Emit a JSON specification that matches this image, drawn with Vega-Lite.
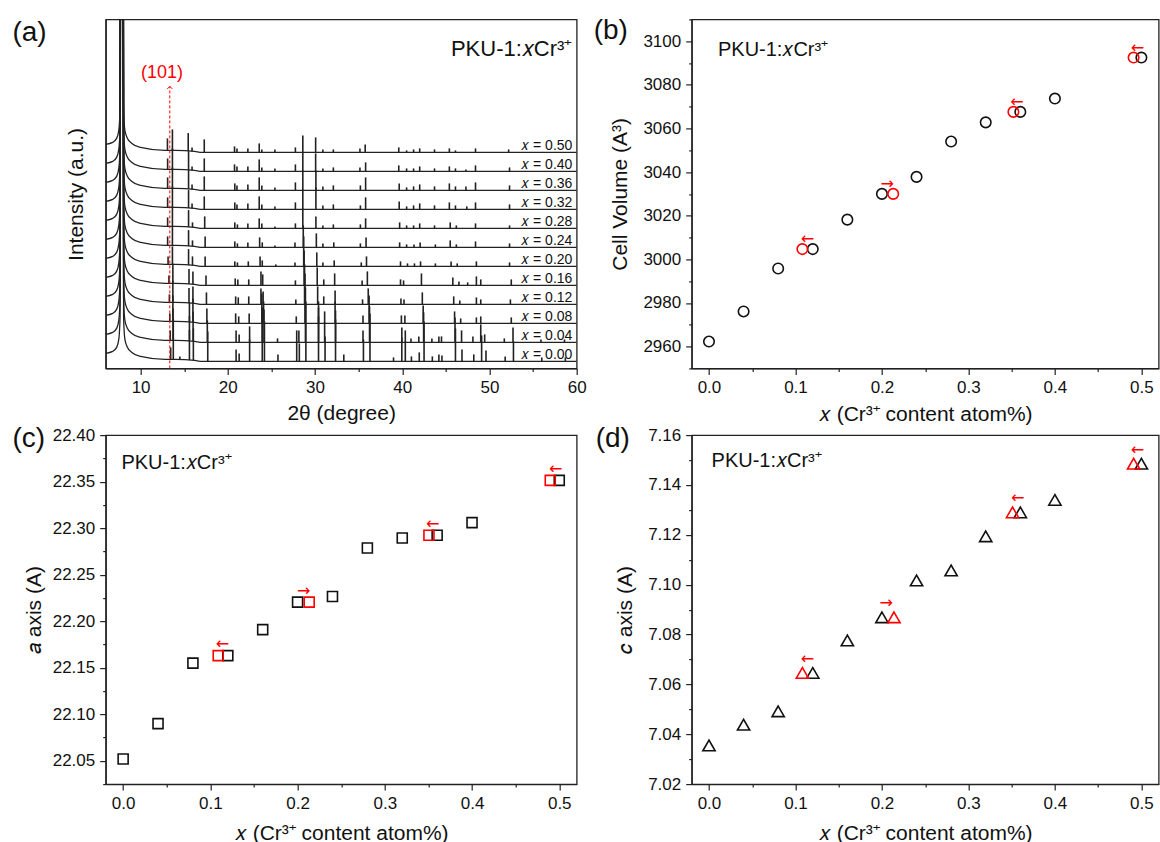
{
"$schema":"https://vega.github.io/schema/vega-lite/v6.json",
"background":"white",
"padding":{"left":11.7,"top":9.4,"right":0,"bottom":5},
"config":{"font":"Liberation Sans","view":{"stroke":"#222","strokeWidth":1.3},
"axis":{"grid":false,"domainColor":"#222","domainWidth":1.3,"tickColor":"#222","tickWidth":1.2,"labelColor":"#111","titleColor":"#111","labelFontSize":17,"titleFontSize":21,"titleFontWeight":"normal","labelFlush":false,"labelOverlap":false,"labelFont":"Liberation Sans","titleFont":"Liberation Sans"},
"text":{"font":"Liberation Sans"}},
"datasets":{
"bg":[
{"s":"0.00","t":6,"v":15},{"s":"0.00","t":6.8,"v":17},{"s":"0.00","t":7.25,"v":21},{"s":"0.00","t":7.5,"v":29},{"s":"0.00","t":7.65,"v":52},{"s":"0.00","t":7.77,"v":1007},{"s":"0.00","t":7.93,"v":1007},{"s":"0.00","t":8.05,"v":52},{"s":"0.00","t":8.2,"v":29},{"s":"0.00","t":8.5,"v":21},{"s":"0.00","t":9,"v":16},{"s":"0.00","t":10,"v":12},{"s":"0.00","t":12.8,"v":9},{"s":"0.00","t":14,"v":9},{"s":"0.00","t":16.2,"v":8},{"s":"0.00","t":17,"v":7},{"s":"0.00","t":60,"v":7},
{"s":"0.04","t":6,"v":34},{"s":"0.04","t":6.8,"v":36},{"s":"0.04","t":7.25,"v":40},{"s":"0.04","t":7.5,"v":48},{"s":"0.04","t":7.65,"v":71},{"s":"0.04","t":7.77,"v":1026},{"s":"0.04","t":7.93,"v":1026},{"s":"0.04","t":8.05,"v":71},{"s":"0.04","t":8.2,"v":48},{"s":"0.04","t":8.5,"v":40},{"s":"0.04","t":9,"v":35},{"s":"0.04","t":10,"v":31},{"s":"0.04","t":12.8,"v":28},{"s":"0.04","t":14,"v":28},{"s":"0.04","t":16.2,"v":27},{"s":"0.04","t":17,"v":26},{"s":"0.04","t":60,"v":26},
{"s":"0.08","t":6,"v":53},{"s":"0.08","t":6.8,"v":55},{"s":"0.08","t":7.25,"v":59},{"s":"0.08","t":7.5,"v":67},{"s":"0.08","t":7.65,"v":90},{"s":"0.08","t":7.77,"v":1045},{"s":"0.08","t":7.93,"v":1045},{"s":"0.08","t":8.05,"v":90},{"s":"0.08","t":8.2,"v":67},{"s":"0.08","t":8.5,"v":59},{"s":"0.08","t":9,"v":54},{"s":"0.08","t":10,"v":50},{"s":"0.08","t":12.8,"v":47},{"s":"0.08","t":14,"v":47},{"s":"0.08","t":16.2,"v":46},{"s":"0.08","t":17,"v":45},{"s":"0.08","t":60,"v":45},
{"s":"0.12","t":6,"v":72},{"s":"0.12","t":6.8,"v":74},{"s":"0.12","t":7.25,"v":78},{"s":"0.12","t":7.5,"v":86},{"s":"0.12","t":7.65,"v":109},{"s":"0.12","t":7.77,"v":1064},{"s":"0.12","t":7.93,"v":1064},{"s":"0.12","t":8.05,"v":109},{"s":"0.12","t":8.2,"v":86},{"s":"0.12","t":8.5,"v":78},{"s":"0.12","t":9,"v":73},{"s":"0.12","t":10,"v":69},{"s":"0.12","t":12.8,"v":66},{"s":"0.12","t":14,"v":66},{"s":"0.12","t":16.2,"v":65},{"s":"0.12","t":17,"v":64},{"s":"0.12","t":60,"v":64},
{"s":"0.16","t":6,"v":91},{"s":"0.16","t":6.8,"v":93},{"s":"0.16","t":7.25,"v":97},{"s":"0.16","t":7.5,"v":105},{"s":"0.16","t":7.65,"v":128},{"s":"0.16","t":7.77,"v":1083},{"s":"0.16","t":7.93,"v":1083},{"s":"0.16","t":8.05,"v":128},{"s":"0.16","t":8.2,"v":105},{"s":"0.16","t":8.5,"v":97},{"s":"0.16","t":9,"v":92},{"s":"0.16","t":10,"v":88},{"s":"0.16","t":12.8,"v":85},{"s":"0.16","t":14,"v":85},{"s":"0.16","t":16.2,"v":84},{"s":"0.16","t":17,"v":83},{"s":"0.16","t":60,"v":83},
{"s":"0.20","t":6,"v":110},{"s":"0.20","t":6.8,"v":112},{"s":"0.20","t":7.25,"v":116},{"s":"0.20","t":7.5,"v":124},{"s":"0.20","t":7.65,"v":147},{"s":"0.20","t":7.77,"v":1102},{"s":"0.20","t":7.93,"v":1102},{"s":"0.20","t":8.05,"v":147},{"s":"0.20","t":8.2,"v":124},{"s":"0.20","t":8.5,"v":116},{"s":"0.20","t":9,"v":111},{"s":"0.20","t":10,"v":107},{"s":"0.20","t":12.8,"v":104},{"s":"0.20","t":14,"v":104},{"s":"0.20","t":16.2,"v":103},{"s":"0.20","t":17,"v":102},{"s":"0.20","t":60,"v":102},
{"s":"0.24","t":6,"v":129},{"s":"0.24","t":6.8,"v":131},{"s":"0.24","t":7.25,"v":135},{"s":"0.24","t":7.5,"v":143},{"s":"0.24","t":7.65,"v":166},{"s":"0.24","t":7.77,"v":1121},{"s":"0.24","t":7.93,"v":1121},{"s":"0.24","t":8.05,"v":166},{"s":"0.24","t":8.2,"v":143},{"s":"0.24","t":8.5,"v":135},{"s":"0.24","t":9,"v":130},{"s":"0.24","t":10,"v":126},{"s":"0.24","t":12.8,"v":123},{"s":"0.24","t":14,"v":123},{"s":"0.24","t":16.2,"v":122},{"s":"0.24","t":17,"v":121},{"s":"0.24","t":60,"v":121},
{"s":"0.28","t":6,"v":148},{"s":"0.28","t":6.8,"v":150},{"s":"0.28","t":7.25,"v":154},{"s":"0.28","t":7.5,"v":162},{"s":"0.28","t":7.65,"v":185},{"s":"0.28","t":7.77,"v":1140},{"s":"0.28","t":7.93,"v":1140},{"s":"0.28","t":8.05,"v":185},{"s":"0.28","t":8.2,"v":162},{"s":"0.28","t":8.5,"v":154},{"s":"0.28","t":9,"v":149},{"s":"0.28","t":10,"v":145},{"s":"0.28","t":12.8,"v":142},{"s":"0.28","t":14,"v":142},{"s":"0.28","t":16.2,"v":141},{"s":"0.28","t":17,"v":140},{"s":"0.28","t":60,"v":140},
{"s":"0.32","t":6,"v":167},{"s":"0.32","t":6.8,"v":169},{"s":"0.32","t":7.25,"v":173},{"s":"0.32","t":7.5,"v":181},{"s":"0.32","t":7.65,"v":204},{"s":"0.32","t":7.77,"v":1159},{"s":"0.32","t":7.93,"v":1159},{"s":"0.32","t":8.05,"v":204},{"s":"0.32","t":8.2,"v":181},{"s":"0.32","t":8.5,"v":173},{"s":"0.32","t":9,"v":168},{"s":"0.32","t":10,"v":164},{"s":"0.32","t":12.8,"v":161},{"s":"0.32","t":14,"v":161},{"s":"0.32","t":16.2,"v":160},{"s":"0.32","t":17,"v":159},{"s":"0.32","t":60,"v":159},
{"s":"0.36","t":6,"v":186},{"s":"0.36","t":6.8,"v":188},{"s":"0.36","t":7.25,"v":192},{"s":"0.36","t":7.5,"v":200},{"s":"0.36","t":7.65,"v":223},{"s":"0.36","t":7.77,"v":1178},{"s":"0.36","t":7.93,"v":1178},{"s":"0.36","t":8.05,"v":223},{"s":"0.36","t":8.2,"v":200},{"s":"0.36","t":8.5,"v":192},{"s":"0.36","t":9,"v":187},{"s":"0.36","t":10,"v":183},{"s":"0.36","t":12.8,"v":180},{"s":"0.36","t":14,"v":180},{"s":"0.36","t":16.2,"v":179},{"s":"0.36","t":17,"v":178},{"s":"0.36","t":60,"v":178},
{"s":"0.40","t":6,"v":205},{"s":"0.40","t":6.8,"v":207},{"s":"0.40","t":7.25,"v":211},{"s":"0.40","t":7.5,"v":219},{"s":"0.40","t":7.65,"v":242},{"s":"0.40","t":7.77,"v":1197},{"s":"0.40","t":7.93,"v":1197},{"s":"0.40","t":8.05,"v":242},{"s":"0.40","t":8.2,"v":219},{"s":"0.40","t":8.5,"v":211},{"s":"0.40","t":9,"v":206},{"s":"0.40","t":10,"v":202},{"s":"0.40","t":12.8,"v":199},{"s":"0.40","t":14,"v":199},{"s":"0.40","t":16.2,"v":198},{"s":"0.40","t":17,"v":197},{"s":"0.40","t":60,"v":197},
{"s":"0.50","t":6,"v":224},{"s":"0.50","t":6.8,"v":226},{"s":"0.50","t":7.25,"v":230},{"s":"0.50","t":7.5,"v":238},{"s":"0.50","t":7.65,"v":261},{"s":"0.50","t":7.77,"v":1216},{"s":"0.50","t":7.93,"v":1216},{"s":"0.50","t":8.05,"v":261},{"s":"0.50","t":8.2,"v":238},{"s":"0.50","t":8.5,"v":230},{"s":"0.50","t":9,"v":225},{"s":"0.50","t":10,"v":221},{"s":"0.50","t":12.8,"v":218},{"s":"0.50","t":14,"v":218},{"s":"0.50","t":16.2,"v":217},{"s":"0.50","t":17,"v":216},{"s":"0.50","t":60,"v":216}
],
"pk":[
{"t":13.45,"v":9,"v2":21},{"t":13.75,"v":9,"v2":49},{"t":14.5,"v":8.8,"v2":11.8},{"t":15.6,"v":8.3,"v2":38.3},{"t":16.05,"v":8,"v2":40},{"t":17.7,"v":7,"v2":37},{"t":20.95,"v":7,"v2":19},{"t":21.3,"v":7,"v2":15},{"t":22.5,"v":7,"v2":29},{"t":23.95,"v":7,"v2":50},{"t":24.2,"v":7,"v2":47},{"t":25.75,"v":7,"v2":14},{"t":27.9,"v":7,"v2":27},{"t":28.2,"v":7,"v2":25},{"t":28.95,"v":7,"v2":67},{"t":30.4,"v":7,"v2":52},{"t":31.15,"v":7,"v2":32},{"t":32.35,"v":7,"v2":49},{"t":33.3,"v":7,"v2":14},{"t":35.55,"v":7,"v2":29},{"t":36.3,"v":7,"v2":55},{"t":39,"v":7,"v2":11},{"t":39.95,"v":7,"v2":31},{"t":40.35,"v":7,"v2":27},{"t":41.05,"v":7,"v2":12},{"t":41.95,"v":7,"v2":16},{"t":42.5,"v":7,"v2":47},{"t":43.45,"v":7,"v2":12},{"t":44.2,"v":7,"v2":14},{"t":44.55,"v":7,"v2":13},{"t":46.1,"v":7,"v2":40},{"t":46.85,"v":7,"v2":19},{"t":48.2,"v":7,"v2":14},{"t":49.1,"v":7,"v2":33},{"t":49.6,"v":7,"v2":18},{"t":51.8,"v":7,"v2":12},{"t":52.75,"v":7,"v2":27},{"t":56,"v":7,"v2":11},{"t":58.7,"v":7,"v2":11},
{"t":13.4,"v":28,"v2":38},{"t":13.72,"v":28,"v2":60},{"t":15.6,"v":27.3,"v2":52.3},{"t":16.02,"v":27,"v2":57},{"t":17.65,"v":26,"v2":48},{"t":20.95,"v":26,"v2":38},{"t":21.3,"v":26,"v2":34},{"t":22.5,"v":26,"v2":42},{"t":23.95,"v":26,"v2":61},{"t":24.15,"v":26,"v2":59},{"t":25.7,"v":26,"v2":30},{"t":27.9,"v":26,"v2":38},{"t":28.15,"v":26,"v2":38},{"t":28.9,"v":26,"v2":81},{"t":30.4,"v":26,"v2":61},{"t":31.1,"v":26,"v2":46},{"t":32.35,"v":26,"v2":58},{"t":35.5,"v":26,"v2":38},{"t":36.25,"v":26,"v2":62},{"t":39.95,"v":26,"v2":41},{"t":40.35,"v":26,"v2":38},{"t":41,"v":26,"v2":30},{"t":41.9,"v":26,"v2":32},{"t":42.45,"v":26,"v2":56},{"t":43.4,"v":26,"v2":30},{"t":44.2,"v":26,"v2":32},{"t":44.5,"v":26,"v2":32},{"t":46.05,"v":26,"v2":51},{"t":46.8,"v":26,"v2":38},{"t":48.1,"v":26,"v2":32},{"t":49,"v":26,"v2":44},{"t":49.45,"v":26,"v2":34},{"t":51.7,"v":26,"v2":30},{"t":52.7,"v":26,"v2":41},{"t":55.9,"v":26,"v2":29},{"t":58.6,"v":26,"v2":29},
{"t":13.35,"v":47,"v2":55},{"t":13.7,"v":47,"v2":73},{"t":15.6,"v":46.3,"v2":66.3},{"t":16,"v":46,"v2":70},{"t":17.6,"v":45,"v2":60},{"t":20.9,"v":45,"v2":55},{"t":21.25,"v":45,"v2":52},{"t":22.45,"v":45,"v2":55},{"t":23.9,"v":45,"v2":75},{"t":24.1,"v":45,"v2":67},{"t":27.85,"v":45,"v2":52},{"t":28.85,"v":45,"v2":95},{"t":30.4,"v":45,"v2":67},{"t":31.1,"v":45,"v2":57},{"t":32.3,"v":45,"v2":67},{"t":35.5,"v":45,"v2":53},{"t":36.2,"v":45,"v2":73},{"t":39.9,"v":45,"v2":53},{"t":40.3,"v":45,"v2":53},{"t":42.4,"v":45,"v2":63},{"t":46,"v":45,"v2":57},{"t":46.7,"v":45,"v2":50},{"t":48.5,"v":45,"v2":51},{"t":49,"v":45,"v2":52},{"t":52.5,"v":45,"v2":51},
{"t":13.3,"v":66,"v2":74},{"t":13.7,"v":66,"v2":88},{"t":15.55,"v":65.3,"v2":80.3},{"t":16,"v":65,"v2":82},{"t":17.55,"v":64,"v2":76},{"t":20.9,"v":64,"v2":72},{"t":21.2,"v":64,"v2":71},{"t":22.4,"v":64,"v2":72},{"t":23.8,"v":64,"v2":80},{"t":24.05,"v":64,"v2":77},{"t":27.8,"v":64,"v2":69},{"t":28.8,"v":64,"v2":104},{"t":30.3,"v":64,"v2":82},{"t":31,"v":64,"v2":72},{"t":32.3,"v":64,"v2":78},{"t":35.45,"v":64,"v2":69},{"t":36.1,"v":64,"v2":80},{"t":39.85,"v":64,"v2":70},{"t":40.2,"v":64,"v2":69},{"t":42.3,"v":64,"v2":76},{"t":45.9,"v":64,"v2":72},{"t":46.6,"v":64,"v2":68},{"t":48.5,"v":64,"v2":71},{"t":49,"v":64,"v2":69},{"t":52.4,"v":64,"v2":69},
{"t":13.25,"v":85,"v2":93},{"t":13.7,"v":85,"v2":105},{"t":15.55,"v":84.3,"v2":99.3},{"t":16,"v":84,"v2":97},{"t":17.5,"v":83,"v2":93},{"t":20.85,"v":83,"v2":90},{"t":21.15,"v":83,"v2":89},{"t":22.4,"v":83,"v2":89},{"t":23.8,"v":83,"v2":97},{"t":24,"v":83,"v2":94},{"t":27.75,"v":83,"v2":88},{"t":28.75,"v":83,"v2":118},{"t":30.25,"v":83,"v2":101},{"t":31,"v":83,"v2":89},{"t":32.25,"v":83,"v2":95},{"t":35.4,"v":83,"v2":88},{"t":36,"v":83,"v2":97},{"t":39.8,"v":83,"v2":89},{"t":40.15,"v":83,"v2":88},{"t":42.2,"v":83,"v2":95},{"t":45.8,"v":83,"v2":91},{"t":46.5,"v":83,"v2":87},{"t":47.5,"v":83,"v2":86},{"t":48.5,"v":83,"v2":92},{"t":49,"v":83,"v2":89},{"t":52.5,"v":83,"v2":89},
{"t":13.15,"v":104,"v2":112},{"t":13.65,"v":104,"v2":122},{"t":15.5,"v":103.3,"v2":119.3},{"t":15.95,"v":103,"v2":112},{"t":17.4,"v":102,"v2":112},{"t":20.8,"v":102,"v2":107},{"t":21.1,"v":102,"v2":106},{"t":22.35,"v":102,"v2":107},{"t":23.7,"v":102,"v2":112},{"t":23.95,"v":102,"v2":108},{"t":25.5,"v":102,"v2":104},{"t":27.7,"v":102,"v2":106},{"t":28.7,"v":102,"v2":132},{"t":30.2,"v":102,"v2":116},{"t":30.9,"v":102,"v2":106},{"t":32.2,"v":102,"v2":108},{"t":35.3,"v":102,"v2":106},{"t":35.9,"v":102,"v2":112},{"t":39.8,"v":102,"v2":107},{"t":40.6,"v":102,"v2":105},{"t":41.4,"v":102,"v2":105},{"t":42.1,"v":102,"v2":107},{"t":43.8,"v":102,"v2":105},{"t":45.6,"v":102,"v2":107},{"t":46.3,"v":102,"v2":105},{"t":48.5,"v":102,"v2":107},{"t":52.3,"v":102,"v2":106},
{"t":13.1,"v":123,"v2":132},{"t":13.65,"v":123,"v2":142},{"t":15.5,"v":122.3,"v2":138.3},{"t":15.95,"v":122,"v2":128},{"t":17.4,"v":121,"v2":132},{"t":20.8,"v":121,"v2":127},{"t":21.1,"v":121,"v2":125},{"t":22.3,"v":121,"v2":126},{"t":23.65,"v":121,"v2":131},{"t":23.95,"v":121,"v2":126},{"t":25.4,"v":121,"v2":123},{"t":27.7,"v":121,"v2":126},{"t":28.65,"v":121,"v2":143},{"t":30.15,"v":121,"v2":135},{"t":30.9,"v":121,"v2":125},{"t":32.15,"v":121,"v2":126},{"t":35.2,"v":121,"v2":125},{"t":35.85,"v":121,"v2":131},{"t":39.7,"v":121,"v2":126},{"t":40.5,"v":121,"v2":124},{"t":41.35,"v":121,"v2":124},{"t":42.05,"v":121,"v2":126},{"t":43.8,"v":121,"v2":124},{"t":45.5,"v":121,"v2":128},{"t":46.2,"v":121,"v2":124},{"t":48.4,"v":121,"v2":127},{"t":52.3,"v":121,"v2":125},
{"t":13.1,"v":142,"v2":151},{"t":13.65,"v":142,"v2":162},{"t":15.5,"v":141.3,"v2":158.3},{"t":15.95,"v":141,"v2":146},{"t":17.35,"v":140,"v2":152},{"t":20.8,"v":140,"v2":146},{"t":21.1,"v":140,"v2":144},{"t":22.3,"v":140,"v2":145},{"t":23.6,"v":140,"v2":150},{"t":23.9,"v":140,"v2":145},{"t":25.4,"v":140,"v2":142},{"t":27.75,"v":140,"v2":145},{"t":28.6,"v":140,"v2":160},{"t":30.1,"v":140,"v2":152},{"t":30.9,"v":140,"v2":143},{"t":32.1,"v":140,"v2":144},{"t":35.2,"v":140,"v2":144},{"t":35.8,"v":140,"v2":150},{"t":39.7,"v":140,"v2":146},{"t":40.5,"v":140,"v2":143},{"t":41.3,"v":140,"v2":143},{"t":42,"v":140,"v2":145},{"t":43.7,"v":140,"v2":143},{"t":45.5,"v":140,"v2":146},{"t":46.2,"v":140,"v2":143},{"t":48.4,"v":140,"v2":145},{"t":52.3,"v":140,"v2":143},
{"t":13.1,"v":161,"v2":171},{"t":13.65,"v":161,"v2":182},{"t":15.5,"v":160.3,"v2":178.3},{"t":15.9,"v":160,"v2":165},{"t":17.3,"v":159,"v2":172},{"t":20.8,"v":159,"v2":166},{"t":21.05,"v":159,"v2":164},{"t":22.3,"v":159,"v2":165},{"t":23.6,"v":159,"v2":172},{"t":23.9,"v":159,"v2":164},{"t":25.4,"v":159,"v2":162},{"t":27.75,"v":159,"v2":166},{"t":28.6,"v":159,"v2":179},{"t":30.1,"v":159,"v2":181},{"t":30.9,"v":159,"v2":163},{"t":32.1,"v":159,"v2":164},{"t":35.2,"v":159,"v2":163},{"t":35.8,"v":159,"v2":171},{"t":39.65,"v":159,"v2":167},{"t":40.5,"v":159,"v2":162},{"t":41.3,"v":159,"v2":163},{"t":42,"v":159,"v2":165},{"t":43.7,"v":159,"v2":163},{"t":45.4,"v":159,"v2":166},{"t":46.1,"v":159,"v2":163},{"t":47.4,"v":159,"v2":162},{"t":48.4,"v":159,"v2":166},{"t":52.3,"v":159,"v2":164},
{"t":13.1,"v":180,"v2":191},{"t":13.65,"v":180,"v2":201},{"t":15.5,"v":179.3,"v2":198.3},{"t":15.9,"v":179,"v2":184},{"t":17.3,"v":178,"v2":192},{"t":20.8,"v":178,"v2":185},{"t":21.05,"v":178,"v2":183},{"t":22.3,"v":178,"v2":184},{"t":23.6,"v":178,"v2":191},{"t":23.9,"v":178,"v2":183},{"t":25.4,"v":178,"v2":181},{"t":27.75,"v":178,"v2":186},{"t":28.6,"v":178,"v2":198},{"t":30.1,"v":178,"v2":198},{"t":30.9,"v":178,"v2":182},{"t":32.1,"v":178,"v2":183},{"t":35.2,"v":178,"v2":183},{"t":35.8,"v":178,"v2":191},{"t":39.65,"v":178,"v2":185},{"t":40.5,"v":178,"v2":181},{"t":41.3,"v":178,"v2":182},{"t":42,"v":178,"v2":184},{"t":43.7,"v":178,"v2":182},{"t":45.4,"v":178,"v2":185},{"t":46.1,"v":178,"v2":182},{"t":47.3,"v":178,"v2":182},{"t":48.4,"v":178,"v2":186},{"t":52.3,"v":178,"v2":183},
{"t":13.1,"v":199,"v2":210},{"t":13.65,"v":199,"v2":220},{"t":15.5,"v":198.3,"v2":217.3},{"t":15.9,"v":198,"v2":202},{"t":17.3,"v":197,"v2":210},{"t":20.77,"v":197,"v2":204},{"t":21.05,"v":197,"v2":202},{"t":22.3,"v":197,"v2":202},{"t":23.6,"v":197,"v2":209},{"t":23.9,"v":197,"v2":201},{"t":25.4,"v":197,"v2":200},{"t":27.75,"v":197,"v2":204},{"t":28.6,"v":197,"v2":216},{"t":30.07,"v":197,"v2":215},{"t":30.9,"v":197,"v2":200},{"t":32.1,"v":197,"v2":201},{"t":35.15,"v":197,"v2":201},{"t":35.8,"v":197,"v2":206},{"t":39.6,"v":197,"v2":203},{"t":40.5,"v":197,"v2":200},{"t":41.3,"v":197,"v2":200},{"t":42,"v":197,"v2":202},{"t":43.7,"v":197,"v2":200},{"t":45.4,"v":197,"v2":202},{"t":46.1,"v":197,"v2":200},{"t":47.3,"v":197,"v2":199},{"t":48.4,"v":197,"v2":203},{"t":52.3,"v":197,"v2":201},
{"t":13.08,"v":218,"v2":230},{"t":13.65,"v":218,"v2":239},{"t":15.46,"v":217.3,"v2":235.3},{"t":15.9,"v":217,"v2":221},{"t":17.3,"v":216,"v2":229},{"t":20.77,"v":216,"v2":222},{"t":21.05,"v":216,"v2":220},{"t":22.3,"v":216,"v2":220},{"t":23.6,"v":216,"v2":225},{"t":23.9,"v":216,"v2":219},{"t":25.4,"v":216,"v2":219},{"t":27.75,"v":216,"v2":221},{"t":28.6,"v":216,"v2":233},{"t":30.07,"v":216,"v2":231},{"t":30.9,"v":216,"v2":219},{"t":32.1,"v":216,"v2":219},{"t":35.15,"v":216,"v2":220},{"t":35.75,"v":216,"v2":224},{"t":39.6,"v":216,"v2":221},{"t":40.5,"v":216,"v2":218},{"t":41.3,"v":216,"v2":219},{"t":42,"v":216,"v2":220},{"t":43.7,"v":216,"v2":219},{"t":45.4,"v":216,"v2":220},{"t":46.1,"v":216,"v2":218},{"t":48.4,"v":216,"v2":220},{"t":52.2,"v":216,"v2":219}
],
"lab":[
{"t":59.5,"v":9,"txt":"𝑥 = 0.00"},{"t":59.5,"v":28,"txt":"𝑥 = 0.04"},{"t":59.5,"v":47,"txt":"𝑥 = 0.08"},{"t":59.5,"v":66,"txt":"𝑥 = 0.12"},{"t":59.5,"v":85,"txt":"𝑥 = 0.16"},{"t":59.5,"v":104,"txt":"𝑥 = 0.20"},{"t":59.5,"v":123,"txt":"𝑥 = 0.24"},{"t":59.5,"v":142,"txt":"𝑥 = 0.28"},{"t":59.5,"v":161,"txt":"𝑥 = 0.32"},{"t":59.5,"v":180,"txt":"𝑥 = 0.36"},{"t":59.5,"v":199,"txt":"𝑥 = 0.40"},{"t":59.5,"v":218,"txt":"𝑥 = 0.50"}
],
"volk":[{"x":0,"y":2962.3},{"x":0.04,"y":2976.1},{"x":0.08,"y":2995.8},{"x":0.12,"y":3004.7},{"x":0.16,"y":3018.2},{"x":0.2,"y":3030},{"x":0.24,"y":3037.8},{"x":0.28,"y":3054},{"x":0.32,"y":3062.8},{"x":0.36,"y":3067.6},{"x":0.4,"y":3073.7},{"x":0.5,"y":3092.5}],
"volr":[{"x":0.108,"y":3004.7},{"x":0.213,"y":3030},{"x":0.352,"y":3067.6},{"x":0.491,"y":3092.5}],
"vola":[{"x":0.114,"y":3004.7,"a":"←"},{"x":0.206,"y":3030,"a":"→"},{"x":0.356,"y":3067.6,"a":"←"},{"x":0.4955,"y":3092.5,"a":"←"}],
"ak":[{"x":0,"y":22.052},{"x":0.04,"y":22.09},{"x":0.08,"y":22.155},{"x":0.12,"y":22.163},{"x":0.16,"y":22.191},{"x":0.2,"y":22.2205},{"x":0.24,"y":22.2266},{"x":0.28,"y":22.2787},{"x":0.32,"y":22.2895},{"x":0.36,"y":22.2924},{"x":0.4,"y":22.306},{"x":0.5,"y":22.3514}],
"ar":[{"x":0.109,"y":22.163},{"x":0.2133,"y":22.2205},{"x":0.3506,"y":22.2924},{"x":0.4897,"y":22.3514}],
"aa":[{"x":0.1138,"y":22.163,"a":"←"},{"x":0.207,"y":22.2205,"a":"→"},{"x":0.355,"y":22.2924,"a":"←"},{"x":0.496,"y":22.3514,"a":"←"}],
"ck":[{"x":0,"y":7.0355},{"x":0.04,"y":7.0438},{"x":0.08,"y":7.0492},{"x":0.12,"y":7.0646},{"x":0.16,"y":7.0776},{"x":0.2,"y":7.0869},{"x":0.24,"y":7.1017},{"x":0.28,"y":7.1057},{"x":0.32,"y":7.1194},{"x":0.36,"y":7.129},{"x":0.4,"y":7.134},{"x":0.5,"y":7.1485}],
"cr":[{"x":0.108,"y":7.0646},{"x":0.2139,"y":7.0869},{"x":0.351,"y":7.129},{"x":0.491,"y":7.1485}],
"ca":[{"x":0.114,"y":7.0646,"a":"←"},{"x":0.205,"y":7.0869,"a":"→"},{"x":0.357,"y":7.129,"a":"←"},{"x":0.4955,"y":7.1485,"a":"←"}]
},
"columns":2,
"bounds":"flush",
"spacing":{"row":66.7,"column":115},
"concat":[
{"width":471,"height":349,
"encoding":{
"x":{"field":"t","type":"quantitative","scale":{"domain":[6,60],"nice":false,"zero":false},
"axis":{"title":"2θ (degree)","values":[10,15,20,25,30,35,40,45,50,55,60],"labelExpr":"datum.value % 10 == 0 ? format(datum.value,'d') : ''","tickSize":{"condition":{"test":"datum.value % 10 != 0","value":3},"value":6},"labelPadding":5,"titlePadding":7}},
"y":{"field":"v","type":"quantitative","scale":{"domain":[0,349],"nice":false,"zero":false},
"axis":{"title":"Intensity (a.u.)","labels":false,"ticks":false,"titlePadding":19}}},
"layer":[
{"data":{"name":"bg"},"mark":{"type":"line","clip":true,"color":"#222","strokeWidth":1.3,"interpolate":"monotone"},"encoding":{"detail":{"field":"s"}}},
{"data":{"name":"pk"},"mark":{"type":"rule","color":"#222","strokeWidth":1.6},"encoding":{"y2":{"field":"v2"}}},
{"data":{"name":"lab"},"mark":{"type":"text","align":"right","baseline":"alphabetic","fontSize":14,"color":"#111"},"encoding":{"text":{"field":"txt"}}},
{"data":{"values":[{"t":13.35,"v":0,"v2":282}]},"mark":{"type":"rule","color":"#ff0000","strokeDash":[3,2],"strokeWidth":1},"encoding":{"y2":{"field":"v2"}}},
{"data":{"values":[{"t":13.35,"v":282}]},"mark":{"type":"point","shape":"M-1,1L0,0L1,1","size":25,"filled":false,"stroke":"#ff0000","strokeWidth":1,"opacity":1}},
{"data":{"values":[{"t":12.45,"v":295,"txt":"(101)"}]},"mark":{"type":"text","fontSize":18,"color":"#ff0000","baseline":"middle"},"encoding":{"text":{"field":"txt"}}},
{"data":{"values":[{"t":59.5,"v":319,"txt":"PKU-1:𝑥Cr³⁺"}]},"mark":{"type":"text","fontSize":22,"align":"right","baseline":"middle","color":"#111"},"encoding":{"text":{"field":"txt"}}},
{"data":{"values":[{"t":6,"v":349,"txt":"(a)"}]},"mark":{"type":"text","fontSize":28,"align":"left","baseline":"middle","dx":-93.3,"dy":13.3,"color":"#111"},"encoding":{"text":{"field":"txt"}}}
]},
{"width":467,"height":349,
"encoding":{
"x":{"field":"x","type":"quantitative","scale":{"domain":[-0.02,0.52],"nice":false,"zero":false},
"axis":{"title":"𝑥 (Cr³⁺ content atom%)","values":[0,0.05,0.1,0.15,0.2,0.25,0.3,0.35,0.4,0.45,0.5],"labelExpr":"indexof([0.05,0.15,0.25,0.35,0.45], datum.value) >= 0 ? '' : format(datum.value,'.1f')","tickSize":{"condition":{"test":"indexof([0.05,0.15,0.25,0.35,0.45], datum.value) >= 0","value":3},"value":6},"labelPadding":5,"titlePadding":8}},
"y":{"field":"y","type":"quantitative","scale":{"domain":[2950,3110],"nice":false,"zero":false},
"axis":{"title":"Cell Volume (A³)","values":[2950,2960,2970,2980,2990,3000,3010,3020,3030,3040,3050,3060,3070,3080,3090,3100,3110],"labelExpr":"datum.value % 20 == 0 ? format(datum.value,'d') : ''","tickSize":{"condition":{"test":"datum.value % 20 != 0","value":3},"value":6},"labelPadding":5,"titlePadding":12}}},
"layer":[
{"data":{"name":"volk"},"mark":{"type":"point","shape":"circle","size":110,"filled":false,"stroke":"#111","strokeWidth":1.6,"opacity":1}},
{"data":{"name":"volr"},"mark":{"type":"point","shape":"circle","size":110,"filled":false,"stroke":"#ff0000","strokeWidth":1.6,"opacity":1}},
{"data":{"name":"vola"},"mark":{"type":"text","font":"DejaVu Sans","fontSize":16,"color":"#ff0000","baseline":"middle","dy":-10},"encoding":{"text":{"field":"a"}}},
{"data":{"values":[{"x":0.0104,"y":3096.2,"txt":"PKU-1:𝑥Cr³⁺"}]},"mark":{"type":"text","fontSize":20,"align":"left","baseline":"middle","color":"#111"},"encoding":{"text":{"field":"txt"}}},
{"data":{"values":[{"x":-0.02,"y":3110,"txt":"(b)"}]},"mark":{"type":"text","fontSize":28,"align":"left","baseline":"middle","dx":-98,"dy":11.7,"color":"#111"},"encoding":{"text":{"field":"txt"}}}
]},
{"width":471,"height":349,
"encoding":{
"x":{"field":"x","type":"quantitative","scale":{"domain":[-0.02,0.52],"nice":false,"zero":false},
"axis":{"title":"𝑥 (Cr³⁺ content atom%)","values":[0,0.05,0.1,0.15,0.2,0.25,0.3,0.35,0.4,0.45,0.5],"labelExpr":"indexof([0.05,0.15,0.25,0.35,0.45], datum.value) >= 0 ? '' : format(datum.value,'.1f')","tickSize":{"condition":{"test":"indexof([0.05,0.15,0.25,0.35,0.45], datum.value) >= 0","value":3},"value":6},"labelPadding":5,"titlePadding":11}},
"y":{"field":"y","type":"quantitative","scale":{"domain":[22.025,22.4],"nice":false,"zero":false},
"axis":{"title":"𝑎 axis (A)","values":[22.025,22.05,22.075,22.1,22.125,22.15,22.175,22.2,22.225,22.25,22.275,22.3,22.325,22.35,22.375,22.4],"labelExpr":"indexof([22.025,22.075,22.125,22.175,22.225,22.275,22.325,22.375], datum.value) >= 0 ? '' : format(datum.value,'.2f')","tickSize":{"condition":{"test":"indexof([22.025,22.075,22.125,22.175,22.225,22.275,22.325,22.375], datum.value) >= 0","value":3},"value":6},"labelPadding":5,"titlePadding":8}}},
"layer":[
{"data":{"name":"ak"},"mark":{"type":"point","shape":"square","size":100,"filled":false,"stroke":"#111","strokeWidth":1.6,"opacity":1}},
{"data":{"name":"ar"},"mark":{"type":"point","shape":"square","size":100,"filled":false,"stroke":"#ff0000","strokeWidth":1.6,"opacity":1}},
{"data":{"name":"aa"},"mark":{"type":"text","font":"DejaVu Sans","fontSize":16,"color":"#ff0000","baseline":"middle","dy":-11.5},"encoding":{"text":{"field":"a"}}},
{"data":{"values":[{"x":-0.002,"y":22.3704,"txt":"PKU-1:𝑥Cr³⁺"}]},"mark":{"type":"text","fontSize":20,"align":"left","baseline":"middle","color":"#111"},"encoding":{"text":{"field":"txt"}}},
{"data":{"values":[{"x":-0.02,"y":22.4,"txt":"(c)"}]},"mark":{"type":"text","fontSize":28,"align":"left","baseline":"middle","dx":-93.3,"dy":4.3,"color":"#111"},"encoding":{"text":{"field":"txt"}}}
]},
{"width":467,"height":349,
"encoding":{
"x":{"field":"x","type":"quantitative","scale":{"domain":[-0.02,0.52],"nice":false,"zero":false},
"axis":{"title":"𝑥 (Cr³⁺ content atom%)","values":[0,0.05,0.1,0.15,0.2,0.25,0.3,0.35,0.4,0.45,0.5],"labelExpr":"indexof([0.05,0.15,0.25,0.35,0.45], datum.value) >= 0 ? '' : format(datum.value,'.1f')","tickSize":{"condition":{"test":"indexof([0.05,0.15,0.25,0.35,0.45], datum.value) >= 0","value":3},"value":6},"labelPadding":5,"titlePadding":11}},
"y":{"field":"y","type":"quantitative","scale":{"domain":[7.02,7.16],"nice":false,"zero":false},
"axis":{"title":"𝑐 axis (A)","values":[7.02,7.03,7.04,7.05,7.06,7.07,7.08,7.09,7.1,7.11,7.12,7.13,7.14,7.15,7.16],"labelExpr":"indexof([7.03,7.05,7.07,7.09,7.11,7.13,7.15], datum.value) >= 0 ? '' : format(datum.value,'.2f')","tickSize":{"condition":{"test":"indexof([7.03,7.05,7.07,7.09,7.11,7.13,7.15], datum.value) >= 0","value":3},"value":6},"labelPadding":5,"titlePadding":12}}},
"layer":[
{"data":{"name":"ck"},"mark":{"type":"point","shape":"triangle-up","size":150,"filled":false,"stroke":"#111","strokeWidth":1.6,"opacity":1}},
{"data":{"name":"cr"},"mark":{"type":"point","shape":"triangle-up","size":150,"filled":false,"stroke":"#ff0000","strokeWidth":1.6,"opacity":1}},
{"data":{"name":"ca"},"mark":{"type":"text","font":"DejaVu Sans","fontSize":16,"color":"#ff0000","baseline":"middle","dy":-14},"encoding":{"text":{"field":"a"}}},
{"data":{"values":[{"x":0.003,"y":7.1496,"txt":"PKU-1:𝑥Cr³⁺"}]},"mark":{"type":"text","fontSize":20,"align":"left","baseline":"middle","color":"#111"},"encoding":{"text":{"field":"txt"}}},
{"data":{"values":[{"x":-0.02,"y":7.16,"txt":"(d)"}]},"mark":{"type":"text","fontSize":28,"align":"left","baseline":"middle","dx":-96,"dy":4.3,"color":"#111"},"encoding":{"text":{"field":"txt"}}}
]}
]
}
